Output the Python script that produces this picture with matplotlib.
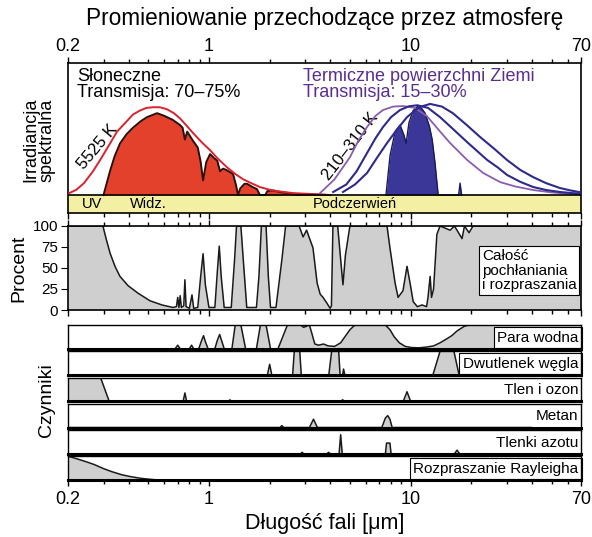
import numpy as np
import matplotlib.pyplot as plt

plt.rcParams['font.family'] = ['Liberation Sans', 'DejaVu Sans']

# --- top panel: spectral irradiance (relative units, 0 = top of the yellow band) ---
sun_bb_wl = [0.20, 0.22, 0.24, 0.266, 0.29, 0.323, 0.35, 0.392, 0.42, 0.455, 0.49, 0.528, 0.57,
             0.619, 0.67, 0.719, 0.77, 0.834, 0.92, 1.013, 1.1, 1.229, 1.35, 1.476, 1.62, 1.792,
             2.0, 2.177, 2.6, 3.2, 4.0]
sun_bb_val = [0.01, 0.04, 0.09, 0.18, 0.27, 0.39, 0.48, 0.56, 0.61, 0.64, 0.66, 0.665, 0.665,
              0.65, 0.62, 0.58, 0.53, 0.47, 0.40, 0.34, 0.28, 0.21, 0.16, 0.12, 0.09, 0.06,
              0.04, 0.03, 0.015, 0.008, 0.0]

sun_wl = [0.30, 0.31, 0.323, 0.34, 0.362, 0.39, 0.42, 0.46, 0.493, 0.553, 0.60, 0.66, 0.719,
          0.74, 0.76, 0.78, 0.834, 0.88, 0.91, 0.935, 0.97, 1.013, 1.06, 1.10, 1.135, 1.174,
          1.22, 1.316, 1.36, 1.394, 1.43, 1.5, 1.545, 1.65, 1.73, 1.79, 1.9, 1.95, 2.07, 2.3,
          2.6, 2.75, 3.0, 3.5, 4.0]
sun_val = [0.0, 0.08, 0.18, 0.29, 0.39, 0.46, 0.51, 0.56, 0.59, 0.62, 0.60, 0.57, 0.53,
           0.51, 0.42, 0.48, 0.41, 0.36, 0.25, 0.11, 0.25, 0.31, 0.28, 0.26, 0.18, 0.20,
           0.19, 0.16, 0.08, 0.0, 0.05, 0.085, 0.085, 0.06, 0.045, 0.0, 0.0, 0.03, 0.035, 0.02,
           0.012, 0.0, 0.006, 0.003, 0.0]

bb310_wl = [3.56, 4.2, 5.01, 5.5, 6.08, 6.7, 7.30, 8.2, 9.18, 10.5, 12.0, 12.9, 14.2, 15.7,
            17.3, 19.1, 22.9, 27.8, 33, 40.5, 50, 60, 70]
bb310_val = [0.015, 0.12, 0.288, 0.41, 0.515, 0.60, 0.644, 0.67, 0.674, 0.66, 0.60, 0.545, 0.47,
             0.394, 0.33, 0.265, 0.167, 0.098, 0.065, 0.038, 0.02, 0.01, 0.005]
bb260_wl = [4.13, 4.8, 5.4, 6.08, 6.7, 7.30, 8.0, 8.87, 9.8, 10.8, 12.2, 14.0, 16.5, 19.1,
            21.5, 24.0, 27, 30.1, 35, 40.5, 47, 55.1, 63, 70]
bb260_val = [0.023, 0.08, 0.18, 0.318, 0.43, 0.515, 0.59, 0.644, 0.672, 0.68, 0.66, 0.59, 0.49,
             0.40, 0.33, 0.265, 0.21, 0.152, 0.10, 0.061, 0.038, 0.023, 0.015, 0.01]
bb210_wl = [4.62, 5.3, 6.08, 6.8, 7.64, 8.6, 9.60, 11.0, 12.5, 14.3, 16.2, 19, 22.1, 26, 30.1,
            35, 40.5, 47, 55.1, 62, 70]
bb210_val = [0.023, 0.08, 0.167, 0.28, 0.394, 0.50, 0.59, 0.665, 0.69, 0.67, 0.62, 0.53, 0.44,
             0.35, 0.265, 0.19, 0.136, 0.09, 0.053, 0.035, 0.02]

earth_wl = [7.55, 7.91, 8.38, 8.87, 9.29, 9.5, 9.82, 10.3, 10.8, 11.3, 11.8, 12.4, 12.8, 13.2,
            13.7, 17.3, 17.6, 17.9]
earth_val = [0.0, 0.30, 0.48, 0.53, 0.45, 0.39, 0.55, 0.64, 0.67, 0.66, 0.62, 0.52, 0.42, 0.25,
             0.0, 0.0, 0.09, 0.0]

# --- middle panel: total absorption and scattering [%] ---
total_wl = [0.2, 0.298, 0.309, 0.323, 0.342, 0.362, 0.397, 0.445, 0.51, 0.585, 0.663, 0.69,
            0.70, 0.71, 0.72, 0.73, 0.75, 0.76, 0.77, 0.80, 0.824, 0.84, 0.88, 0.91, 0.935,
            0.96, 1.0, 1.07, 1.10, 1.125, 1.15, 1.19, 1.29, 1.34, 1.37, 1.44, 1.49, 1.54,
            1.72, 1.77, 1.82, 1.92, 1.97, 2.02, 2.15, 2.3, 2.4, 2.8, 2.93, 3.05, 3.28, 3.44,
            3.56, 3.68, 3.85, 3.99, 4.05, 4.12, 4.35, 4.5, 4.62, 4.75, 5.0, 7.64, 7.9, 8.38,
            8.67, 9.17, 9.6, 9.94, 10.3, 10.8, 11.4, 12.0, 12.2, 12.5, 12.7, 13.0, 13.5, 14.0,
            15.7, 16.5, 18.0, 18.5, 19.5, 20.4, 70]
total_pct = [100, 100, 85, 68, 52, 40, 29, 20, 11, 6, 3, 4,
             15, 3, 17, 3, 5, 36, 4, 2, 18, 2, 3, 40, 67,
             30, 3, 3, 45, 76, 40, 3, 3, 60, 100, 100, 50, 3,
             3, 40, 100, 100, 40, 3, 3, 60, 100, 100, 87, 95, 74, 32,
             19, 15, 8, 2, 5, 100, 100, 60, 30, 65, 100, 100, 74, 32,
             15, 23, 52, 32, 10, 4, 6, 4, 15, 40, 15, 25, 90, 100,
             95, 100, 85, 100, 92, 100, 100]

# --- bottom panel: individual absorbers [%] ---
row_names = ['Para wodna', 'Dwutlenek węgla', 'Tlen i ozon', 'Metan', 'Tlenki azotu',
             'Rozpraszanie Rayleigha']
row_boxed = [True, True, False, False, False, True]

h2o_wl = [0.2, 0.68, 0.70, 0.72, 0.80, 0.82, 0.84, 0.89, 0.92, 0.94, 0.96, 0.99, 1.07, 1.10,
          1.13, 1.16, 1.19, 1.30, 1.35, 1.44, 1.52, 1.72, 1.80, 1.92, 2.02, 2.2, 2.45, 2.85,
          2.95, 3.15, 3.25, 3.35, 3.5, 3.7, 3.9, 4.2, 4.5, 5.0, 5.3, 7.5, 7.9, 8.3, 8.8, 9.4,
          10.1, 11, 12, 13, 14, 15, 16, 17, 18.5, 19.5, 70]
h2o_pct = [0, 0, 15, 0, 0, 15, 0, 0, 35, 55, 30, 0, 0, 35,
           60, 30, 0, 0, 100, 100, 0, 0, 100, 100, 0, 0, 100, 100,
           90, 100, 60, 20, 15, 20, 12, 10, 25, 80, 100, 100, 80, 50, 25, 10,
           5, 4, 7, 12, 25, 40, 55, 75, 95, 100, 100]
co2_wl = [0.2, 1.95, 2.0, 2.05, 2.6, 2.65, 2.82, 2.87, 3.93, 4.06, 4.4, 4.47, 4.6, 4.65, 4.72,
          12.9, 14.0, 16.4, 17.4, 70]
co2_pct = [0, 0, 45, 0, 0, 100, 100, 0, 0, 100, 100, 0, 0, 25, 0,
           0, 100, 100, 0, 0]
o3_wl = [0.2, 0.29, 0.32, 0.745, 0.76, 0.775, 1.25, 1.27, 1.29, 4.5, 4.6, 4.7, 9.2, 9.6, 10.0, 70]
o3_pct = [100, 100, 0, 0, 35, 0, 0, 6, 0, 0, 6, 0, 0, 40, 0, 0]
ch4_wl = [0.2, 2.25, 2.3, 2.35, 3.15, 3.3, 3.45, 7.2, 7.5, 7.7, 7.9, 8.1, 70]
ch4_pct = [0, 0, 8, 0, 0, 35, 0, 0, 40, 50, 35, 0, 0]
n2o_wl = [0.2, 2.85, 2.9, 2.95, 3.85, 3.92, 4.0, 4.42, 4.5, 4.58, 7.5, 7.6, 7.9, 8.0, 16.5,
          17.0, 17.5, 70]
n2o_pct = [0, 0, 6, 0, 0, 6, 0, 0, 80, 0, 0, 45, 45, 0, 0, 15, 0, 0]
ray_wl = [0.2, 0.22, 0.25, 0.27, 0.30, 0.33, 0.37, 0.41, 0.46, 0.51, 0.56, 70]
ray_pct = [100, 90, 75, 65, 48, 35, 22, 14, 7, 3, 0, 0]

rows = [(h2o_wl, h2o_pct), (co2_wl, co2_pct), (o3_wl, o3_pct), (ch4_wl, ch4_pct),
        (n2o_wl, n2o_pct), (ray_wl, ray_pct)]

major_ticks = [0.2, 1, 10, 70]
major_labels = ['0.2', '1', '10', '70']
minor_ticks = [0.3, 0.4, 0.5, 0.6, 0.7, 0.8, 0.9, 2, 3, 4, 5, 6, 7, 8, 9, 20, 30, 40, 50, 60]

W, H = 592.0, 537.0


def box(x0, y0, x1, y1):
    return [x0 / W, 1 - y1 / H, (x1 - x0) / W, (y1 - y0) / H]


def setup_x(ax, top=False, bottom=False):
    ax.set_xscale('log')
    ax.set_xlim(0.2, 70)
    ax.set_xticks(major_ticks)
    ax.set_xticklabels(major_labels)
    ax.set_xticks(minor_ticks, minor=True)
    ax.tick_params(axis='x', which='both', direction='out', top=top, bottom=bottom,
                   labeltop=False, labelbottom=False, width=1)
    ax.tick_params(axis='x', which='major', length=4)
    ax.tick_params(axis='x', which='minor', length=3)


fig = plt.figure(figsize=(5.92, 5.37), dpi=100)
L, R = 68, 581

# top panel
ax = fig.add_axes(box(L, 63, R, 213))
setup_x(ax, top=True, bottom=True)
ax.tick_params(axis='x', labeltop=True, labelsize=13, pad=2)
ax.set_ylim(-0.136, 1.0)
ax.set_yticks([])
ax.axhspan(-0.136, 0, color='#f3f0a4', zorder=0)
ax.fill_between(sun_wl, sun_val, color='#e4412c', lw=0, zorder=2)
ax.plot(sun_wl, sun_val, color='#2a0f0a', lw=1.4, zorder=3)
ax.plot(sun_bb_wl, sun_bb_val, color='#d9232e', lw=1.4, zorder=4)
ax.fill_between(earth_wl, earth_val, color='#3b3799', lw=0, zorder=2)
ax.plot(earth_wl, earth_val, color='#1a1a5a', lw=1.0, zorder=3)
ax.plot(bb310_wl, bb310_val, color='#8a5db0', lw=1.3, zorder=4)
ax.plot(bb260_wl, bb260_val, color='#2e2a8a', lw=1.5, zorder=4)
ax.plot(bb210_wl, bb210_val, color='#2e2a8a', lw=1.5, zorder=4)
ax.axhline(0, color='black', lw=1.2, zorder=5)
for s in ax.spines.values():
    s.set_linewidth(1.2)

ax.text(0.0175, 0.913, 'Słoneczne', transform=ax.transAxes, fontsize=13, va='center')
ax.text(0.0175, 0.80, 'Transmisja: 70–75%', transform=ax.transAxes, fontsize=13, va='center')
purple = '#5a2d91'
ax.text(0.458, 0.913, 'Termiczne powierzchni Ziemi', transform=ax.transAxes, fontsize=13,
        va='center', color=purple)
ax.text(0.458, 0.80, 'Transmisja: 15–30%', transform=ax.transAxes, fontsize=13,
        va='center', color=purple)
ax.text(0.0585, 0.44, '5525 K', transform=ax.transAxes, fontsize=12, rotation=50,
        ha='center', va='center')
ax.text(0.55, 0.447, '210–310 K', transform=ax.transAxes, fontsize=12, rotation=52,
        ha='center', va='center')
ax.text(0.027, 0.06, 'UV', transform=ax.transAxes, fontsize=10.5, va='center', zorder=6)
ax.text(0.121, 0.06, 'Widz.', transform=ax.transAxes, fontsize=10.5, va='center', zorder=6)
ax.text(0.478, 0.06, 'Podczerwień', transform=ax.transAxes, fontsize=10.5, va='center', zorder=6)

# middle panel
ax = fig.add_axes(box(L, 226, R, 310))
setup_x(ax, top=True, bottom=True)
ax.set_ylim(0, 100)
ax.set_yticks([0, 25, 50, 75, 100])
ax.tick_params(axis='y', direction='out', length=5, labelsize=11, pad=2)
ax.fill_between(total_wl, total_pct, color='#cfcfcf', lw=0)
ax.plot(total_wl, total_pct, color='#1a1a1a', lw=1.1)
for s in ax.spines.values():
    s.set_linewidth(1.2)
ax.text(0.807, 0.47, 'Całość\npochłaniania\ni rozpraszania', transform=ax.transAxes,
        fontsize=11, ha='left', va='center', linespacing=1.05,
        bbox=dict(facecolor='white', edgecolor='black', lw=0.8, pad=2))

# bottom panel: one strip per absorber
for i, (name, (wl, pct)) in enumerate(zip(row_names, rows)):
    t = 325 + i * 26.25
    ax = fig.add_axes(box(L, t, R, t + 23.75))
    setup_x(ax, bottom=(i == 5))
    ax.set_ylim(0, 100)
    ax.set_yticks([])
    ax.fill_between(wl, pct, color='#cfcfcf', lw=0)
    ax.plot(wl, pct, color='#1a1a1a', lw=1.1)
    for s in ax.spines.values():
        s.set_linewidth(1.0)
    ax.spines['bottom'].set_linewidth(2.2)
    ax.text(0.995, 0.47, name, transform=ax.transAxes, fontsize=11, ha='right', va='center',
            zorder=2.4,
            bbox=dict(facecolor='white', edgecolor='black' if row_boxed[i] else 'none',
                      lw=0.8, pad=2.5))
    if i == 5:
        ax.tick_params(axis='x', labelbottom=True, labelsize=13, pad=4)

fig.text(324.5 / W, 1 - 18 / H, 'Promieniowanie przechodzące przez atmosferę',
         ha='center', va='center', fontsize=16.3)
fig.text(324.5 / W, 1 - 523 / H, 'Długość fali [μm]', ha='center', va='center', fontsize=15.5)
fig.text(39 / W, 1 - 140 / H, 'Irradiancja\nspektralna', rotation=90, ha='center', va='center',
         fontsize=13, linespacing=1.0)
fig.text(19 / W, 1 - 268 / H, 'Procent', rotation=90, ha='center', va='center', fontsize=14)
fig.text(46 / W, 1 - 400 / H, 'Czynniki', rotation=90, ha='center', va='center', fontsize=14)

fig.savefig('out.png', dpi=100)
